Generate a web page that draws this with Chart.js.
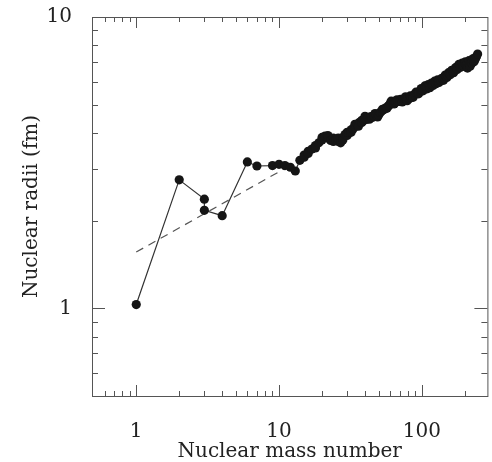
<!DOCTYPE html>
<html>
<head>
<meta charset="utf-8">
<script src="https://cdn.jsdelivr.net/npm/chart.js@4/dist/chart.umd.min.js"></script>
<style>
  html, body { margin: 0; padding: 0; background: #fff; }
  #wrap { width: 492px; height: 462px; }
</style>
</head>
<body>
<div id="wrap"><canvas id="radiiChart"></canvas></div>
<script>
/* Nuclear radius vs mass number, log-log */

// measured radii, in order of mass number
const massNumbers = [1, 2, 3, 3, 4, 6, 7, 9, 10, 11,
    12, 13, 14, 15, 15, 16, 16, 17, 18, 18,
    19, 20, 20, 21, 22, 22, 23, 24, 24, 25,
    26, 26, 27, 28, 28, 29, 30, 30, 31, 32,
    32, 33, 34, 34, 35, 36, 36, 37, 38, 38,
    39, 40, 40, 41, 42, 43, 44, 45, 46, 47,
    48, 49, 50, 51, 52, 53, 54, 55, 56, 57,
    58, 59, 60, 61, 62, 63, 64, 64, 65, 66,
    67, 68, 70, 71, 72, 73, 74, 75, 76, 77,
    78, 79, 80, 82, 83, 84, 86, 87, 88, 90,
    91, 92, 94, 95, 96, 98, 99, 100, 102, 103,
    105, 106, 108, 109, 111, 112, 114, 115, 117, 118,
    120, 121, 123, 124, 126, 127, 129, 130, 132, 133,
    136, 138, 140, 142, 144, 146, 148, 150, 152, 154,
    156, 158, 160, 162, 165, 167, 170, 172, 175, 177,
    180, 182, 185, 187, 190, 192, 195, 197, 200, 202,
    205, 207, 209, 212, 214, 216, 218, 220, 224, 226,
    229, 232, 235, 238, 241, 246];
const radii = [1.03, 2.76, 2.37, 2.17, 2.08, 3.18, 3.08, 3.09, 3.12, 3.09,
    3.05, 2.96, 3.22, 3.36, 3.30, 3.46, 3.40, 3.52, 3.62, 3.55,
    3.70, 3.86, 3.78, 3.90, 3.84, 3.92, 3.77, 3.84, 3.74, 3.79,
    3.74, 3.84, 3.70, 3.86, 3.78, 3.95, 3.92, 4.02, 4.02, 4.10,
    4.02, 4.13, 4.20, 4.28, 4.28, 4.32, 4.22, 4.36, 4.42, 4.34,
    4.40, 4.47, 4.56, 4.45, 4.52, 4.46, 4.55, 4.52, 4.58, 4.66,
    4.60, 4.54, 4.62, 4.70, 4.74, 4.82, 4.80, 4.84, 4.88, 4.86,
    4.94, 4.97, 5.04, 5.14, 5.10, 5.07, 5.13, 5.03, 5.09, 5.11,
    5.20, 5.15, 5.13, 5.22, 5.19, 5.11, 5.23, 5.19, 5.25, 5.32,
    5.22, 5.16, 5.27, 5.25, 5.36, 5.30, 5.35, 5.30, 5.40, 5.44,
    5.52, 5.48, 5.50, 5.45, 5.55, 5.58, 5.68, 5.62, 5.58, 5.68,
    5.80, 5.72, 5.66, 5.75, 5.86, 5.78, 5.72, 5.81, 5.93, 5.85,
    5.82, 5.90, 6.02, 5.94, 5.90, 5.98, 6.08, 6.00, 5.96, 6.04,
    6.06, 6.16, 6.12, 6.06, 6.18, 6.32, 6.25, 6.20, 6.30, 6.44,
    6.38, 6.34, 6.45, 6.56, 6.52, 6.44, 6.60, 6.70, 6.70, 6.60,
    6.76, 6.88, 6.82, 6.72, 6.85, 6.95, 6.88, 6.78, 6.92, 7.02,
    6.80, 6.90, 6.68, 6.95, 7.08, 6.88, 6.78, 7.00, 6.94, 7.08,
    7.20, 7.02, 7.12, 7.22, 7.30, 7.46];

// straight-line fit for the light nuclei (dashed)
const fitA = [1, 11];
const fitR = [1.56, 3.02];

// axis ticks
const xMajorTicks = [1, 10, 100];
const xMinorTicks = [0.6, 0.7, 0.8, 0.9, 2, 3, 4, 5, 6, 7, 8, 9, 20, 30, 40, 50, 60, 70, 80, 90, 200];
const yMajorTicks = [1, 10];
const yMinorTicks = [0.6, 0.7, 0.8, 0.9, 2, 3, 4, 5, 6, 7, 8, 9];

const ink = '#222';
const serif = "'DejaVu Serif', 'Liberation Serif', serif";

// box around the plot with inward tick marks on all four sides
const frameTicks = {
    id: 'frameTicks',
    afterDraw(chart) {
        const { ctx, chartArea: a, scales: { x, y } } = chart;
        ctx.save();
        ctx.strokeStyle = '#555';
        ctx.lineWidth = 1;
        ctx.strokeRect(a.left + 0.5, a.top + 0.5, a.right - a.left, a.bottom - a.top);
        ctx.beginPath();
        const xt = (v, len) => {
            const px = Math.round(x.getPixelForValue(v)) + 0.5;
            ctx.moveTo(px, a.bottom); ctx.lineTo(px, a.bottom - len);
            ctx.moveTo(px, a.top); ctx.lineTo(px, a.top + len);
        };
        const yt = (v, len) => {
            const py = Math.round(y.getPixelForValue(v)) + 0.5;
            ctx.moveTo(a.left, py); ctx.lineTo(a.left + len, py);
            ctx.moveTo(a.right, py); ctx.lineTo(a.right - len, py);
        };
        xMajorTicks.forEach(v => xt(v, 11));
        xMinorTicks.forEach(v => xt(v, 5));
        yMajorTicks.forEach(v => yt(v, 13));
        yMinorTicks.forEach(v => yt(v, 6));
        ctx.stroke();
        ctx.restore();
    }
};

const pts = massNumbers.map((a, i) => ({ x: a, y: radii[i] }));
const fitPts = fitA.map((a, i) => ({ x: a, y: fitR[i] }));

new Chart(document.getElementById('radiiChart'), {
    type: 'scatter',
    data: {
        datasets: [
            {
                label: 'fit',
                data: fitPts,
                showLine: true,
                borderColor: '#555',
                borderWidth: 1.2,
                borderDash: [8, 6],
                pointRadius: 0,
                order: 2
            },
            {
                label: 'radii',
                data: pts,
                showLine: true,
                borderColor: '#333',
                borderWidth: 1.2,
                backgroundColor: '#151515',
                pointBackgroundColor: '#151515',
                pointBorderColor: '#151515',
                pointBorderWidth: 0,
                pointRadius: 4.6,
                order: 1
            }
        ]
    },
    options: {
        responsive: true,
        maintainAspectRatio: false,
        animation: false,
        layout: { padding: { left: 0, top: 17, right: 2, bottom: 0 } },
        plugins: { legend: { display: false }, tooltip: { enabled: false } },
        scales: {
            x: {
                type: 'logarithmic',
                min: 0.49,
                max: 288,
                grid: { display: false },
                border: { display: false },
                afterBuildTicks: s => { s.ticks = xMajorTicks.map(v => ({ value: v })); },
                afterFit: s => { s.height = 66; s.paddingLeft = 0; s.paddingRight = 0; },
                ticks: {
                    autoSkip: false,
                    maxRotation: 0,
                    padding: 16,
                    color: ink,
                    font: { family: serif, size: 20 },
                    callback: v => String(v)
                },
                title: {
                    display: true,
                    text: 'Nuclear mass number',
                    color: ink,
                    font: { family: serif, size: 20, lineHeight: 1 },
                    padding: { top: 0, bottom: 0 }
                }
            },
            y: {
                type: 'logarithmic',
                min: 0.5,
                max: 10,
                grid: { display: false },
                border: { display: false },
                afterBuildTicks: s => { s.ticks = yMajorTicks.map(v => ({ value: v })); },
                afterFit: s => { s.width = 92; s.paddingTop = 0; s.paddingBottom = 0; },
                ticks: {
                    autoSkip: false,
                    padding: 12,
                    color: ink,
                    font: { family: serif, size: 20 },
                    callback: v => String(v)
                },
                title: {
                    display: true,
                    text: 'Nuclear radii (fm)',
                    color: ink,
                    font: { family: serif, size: 20 },
                    padding: { top: 20, bottom: 0 }
                }
            }
        }
    },
    plugins: [frameTicks]
});
</script>
</body>
</html>
